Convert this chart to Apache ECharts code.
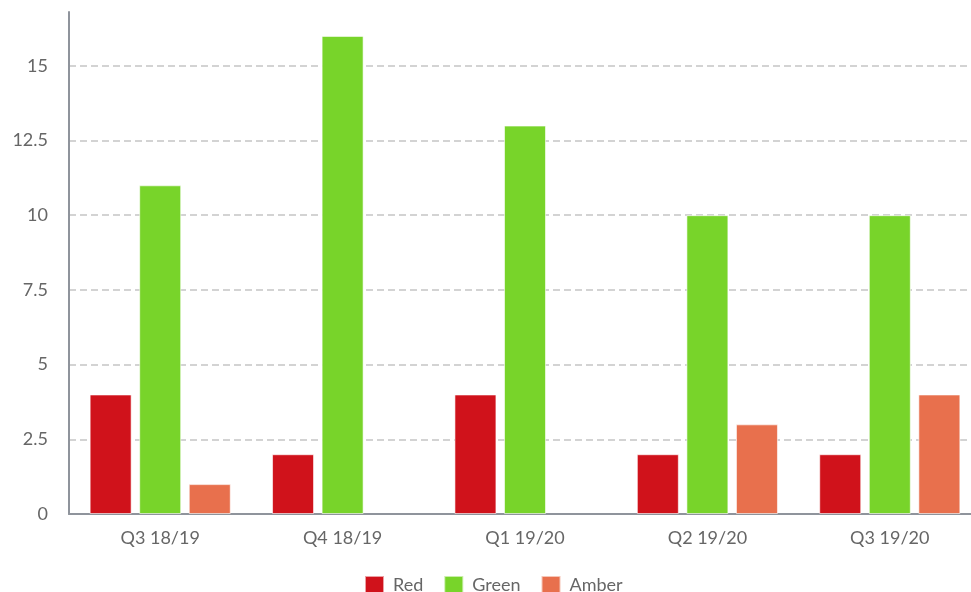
<!DOCTYPE html>
<html>
<head>
<meta charset="utf-8">
<script src="https://cdn.jsdelivr.net/npm/echarts@6/dist/echarts.min.js"></script>
<style>
  html, body { margin: 0; padding: 0; background: #fff; overflow: hidden; }
  #chart { width: 981px; height: 592px; }
</style>
</head>
<body>
<div id="chart"></div>
<script>
const categories = ['Q3 18/19', 'Q4 18/19', 'Q1 19/20', 'Q2 19/20', 'Q3 19/20']
const redValues = [4, 2, 4, 2, 2]
const greenValues = [11, 16, 13, 10, 10]
// no amber bar in Q4 18/19 and Q1 19/20
const amberValues = [1, null, null, 3, 4]

const font = 'Lato, "Noto Sans", sans-serif'
const barBorder = 'rgba(255,255,255,0.6)'

const chart = echarts.init(document.getElementById('chart'))

const bar = (name, data, color) => ({
  name,
  type: 'bar',
  data,
  barWidth: 42,
  barGap: '18%',
  itemStyle: {
    color,
    borderColor: barBorder,
    borderWidth: 1
  }
})

chart.setOption({
  animation: false,
  textStyle: { fontFamily: font },
  grid: {
    left: 69,
    right: 0,
    top: 12,
    bottom: 78
  },
  legend: {
    top: 575,
    left: 364,
    padding: 0,
    itemWidth: 19,
    itemHeight: 19,
    itemGap: 20,
    icon: 'rect',
    textStyle: {
      fontFamily: font,
      fontSize: 18,
      color: '#666',
      padding: [0, 0, 0, 4]
    },
    data: ['Red', 'Green', 'Amber']
  },
  xAxis: {
    type: 'category',
    data: categories,
    axisLine: {
      lineStyle: { color: '#8f949c', width: 2 }
    },
    axisTick: { show: false },
    axisLabel: {
      margin: 15,
      fontSize: 18,
      color: '#666',
      fontFamily: font
    }
  },
  yAxis: {
    type: 'value',
    min: 0,
    max: 16.8,
    interval: 2.5,
    axisLine: {
      show: true,
      lineStyle: { color: '#8f949c', width: 2 }
    },
    axisTick: { show: false },
    axisLabel: {
      margin: 21,
      fontSize: 18,
      color: '#666',
      fontFamily: font,
      showMaxLabel: false
    },
    splitLine: {
      showMaxLine: false,
      lineStyle: {
        color: '#d3d3d3',
        width: 2,
        type: [7, 4]
      }
    }
  },
  series: [
    bar('Red', redValues, '#d0121b'),
    bar('Green', greenValues, '#78d42a'),
    bar('Amber', amberValues, '#e8704d')
  ]
})
</script>
</body>
</html>
